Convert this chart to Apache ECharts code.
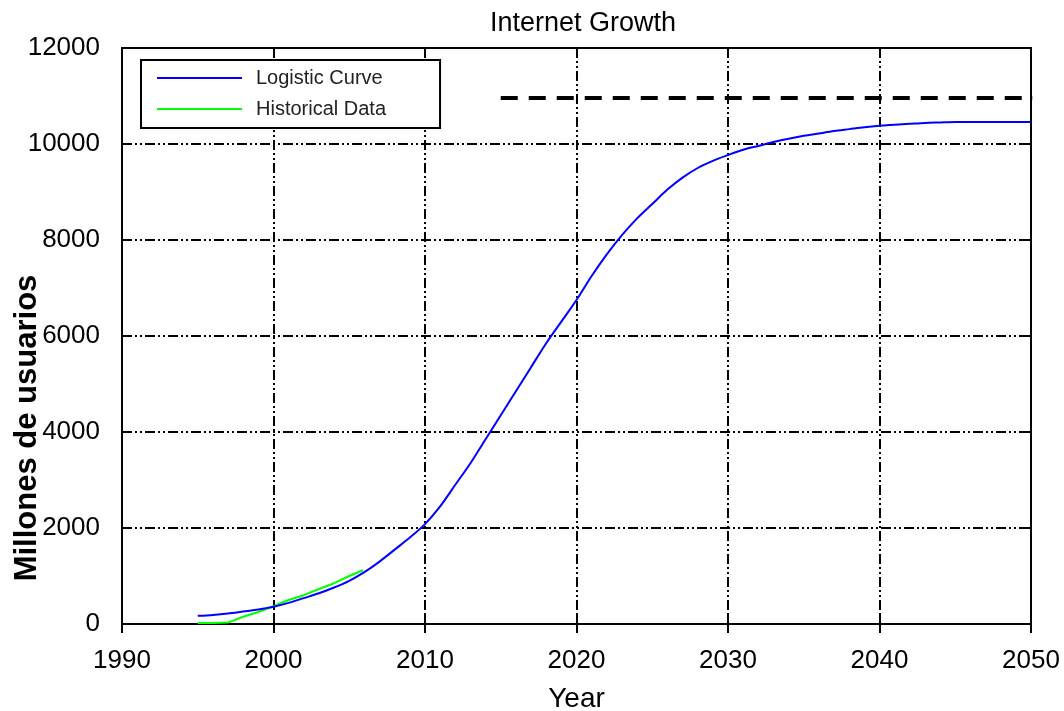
<!DOCTYPE html>
<html>
<head>
<meta charset="utf-8">
<script src="https://cdn.jsdelivr.net/npm/echarts@6/dist/echarts.min.js"></script>
<style>
  html, body { margin: 0; background: #fff; }
  #chart { width: 1064px; height: 711px; }
</style>
</head>
<body>
<div id="chart"></div>
<script>
// logistic fit, one point per year
const logisticYears = [
  1995, 1996, 1997, 1998, 1999, 2000, 2001, 2002, 2003, 2004,
  2005, 2006, 2007, 2008, 2009, 2010, 2011, 2012, 2013, 2014,
  2015, 2016, 2017, 2018, 2019, 2020, 2021, 2022, 2023, 2024,
  2025, 2026, 2027, 2028, 2029, 2030, 2031, 2032, 2033, 2034,
  2035, 2036, 2037, 2038, 2039, 2040, 2041, 2042, 2043, 2044,
  2045, 2046, 2047, 2048, 2049, 2050
];
const logisticUsers = [
  170, 190, 220, 260, 300, 360, 440, 540, 640, 760,
  900, 1080, 1300, 1550, 1800, 2080, 2450, 2900, 3350, 3850,
  4350, 4850, 5350, 5850, 6300, 6750, 7250, 7700, 8100, 8450,
  8750, 9050, 9300, 9500, 9650, 9770, 9880, 9960, 10040, 10110,
  10170, 10220, 10270, 10310, 10350, 10380, 10400, 10420, 10440, 10450,
  10460, 10460, 10460, 10460, 10460, 10460
];
const historicalYears = [1995, 1996, 1997, 1998, 1999, 2000, 2001, 2002, 2003, 2004, 2005, 2005.9];
const historicalUsers = [20, 20, 30, 150, 250, 370, 500, 600, 730, 850, 1000, 1120];
// dashed saturation line, runs past the right edge of the plot
const saturationYears = [2015, 2053];
const saturationLevel = 10960;

const font = '"Liberation Sans", Arial, sans-serif';
const gridDash = [10, 3, 2, 3, 2, 3];
const plain = v => String(v);

const chart = echarts.init(document.getElementById('chart'));

const zip = (xs, ys) => xs.map((x, i) => [x, ys[i]]);

chart.setOption({
  animation: false,
  backgroundColor: '#fff',
  title: {
    text: 'Internet Growth',
    left: 578,
    textAlign: 'center',
    top: 5,
    textStyle: { fontFamily: font, fontSize: 27, fontWeight: 'normal', color: '#000' }
  },
  legend: {
    data: [
      { name: 'Logistic Curve', icon: 'rect' },
      { name: 'Historical Data', icon: 'rect' }
    ],
    orient: 'vertical',
    left: 141,
    top: 60,
    itemWidth: 85,
    itemHeight: 2,
    itemGap: 11,
    padding: [8, 54, 9, 16],
    borderColor: '#000',
    borderWidth: 2,
    backgroundColor: '#fff',
    textStyle: { fontFamily: font, fontSize: 20, lineHeight: 20, color: '#222', padding: [0, 0, 0, 9] }
  },
  grid: {
    left: 122, right: 33, top: 48, bottom: 87,
    containLabel: false,
    outerBoundsMode: 'none',
    show: true, borderColor: '#000', borderWidth: 2
  },
  graphic: [{
    type: 'text',
    x: 27, y: 428,
    rotation: Math.PI / 2,
    style: {
      text: 'Millones de usuarios',
      font: 'bold 31px ' + font,
      fill: '#000',
      align: 'center',
      verticalAlign: 'middle'
    }
  }],
  xAxis: [{
    type: 'value', min: 1990, max: 2050, interval: 10,
    name: 'Year', nameLocation: 'middle', nameGap: 61,
    nameTextStyle: { fontFamily: font, fontSize: 28, color: '#000' },
    axisLine: { show: false },
    axisTick: { inside: true, length: 9, lineStyle: { color: '#000', width: 2 } },
    axisLabel: { fontFamily: font, fontSize: 26, color: '#000', margin: 24, formatter: plain },
    splitLine: { show: true, lineStyle: { color: '#000', width: 2, type: gridDash } }
  }, {
    type: 'value', min: 1990, max: 2050, interval: 10, position: 'top',
    axisLine: { show: false },
    axisTick: { inside: true, length: 9, lineStyle: { color: '#000', width: 2 } },
    axisLabel: { show: false },
    splitLine: { show: false }
  }],
  yAxis: [{
    type: 'value', min: 0, max: 12000, interval: 2000,
    axisLine: { show: false },
    axisTick: { inside: true, length: 9, lineStyle: { color: '#000', width: 2 } },
    axisLabel: { fontFamily: font, fontSize: 26, color: '#000', margin: 22, formatter: plain },
    splitLine: { show: true, lineStyle: { color: '#000', width: 2, type: gridDash } }
  }, {
    type: 'value', min: 0, max: 12000, interval: 2000, position: 'right',
    axisLine: { show: false },
    axisTick: { inside: true, length: 9, lineStyle: { color: '#000', width: 2 } },
    axisLabel: { show: false },
    splitLine: { show: false }
  }],
  series: [{
    name: 'Logistic Curve',
    type: 'line',
    data: zip(logisticYears, logisticUsers),
    symbol: 'none',
    smooth: 0.3,
    color: '#0000ff',
    lineStyle: { color: '#0000ff', width: 2 },
    z: 4
  }, {
    name: 'Historical Data',
    type: 'line',
    data: zip(historicalYears, historicalUsers),
    symbol: 'none',
    color: '#00ff00',
    lineStyle: { color: '#00ff00', width: 2 },
    z: 3
  }, {
    name: 'Saturation',
    type: 'line',
    data: saturationYears.map(y => [y, saturationLevel]),
    symbol: 'none',
    clip: false,
    silent: true,
    lineStyle: { color: '#000', width: 4, type: [17, 11] },
    z: 5
  }]
});
</script>
</body>
</html>
